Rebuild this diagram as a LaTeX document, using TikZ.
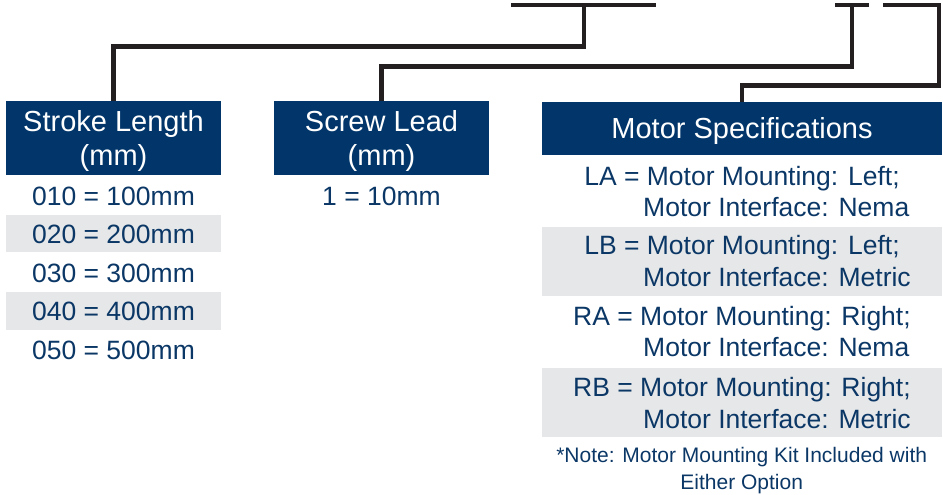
\documentclass[tikz,border=0pt]{standalone}
\usepackage{fontspec}
\setmainfont{Liberation Sans}
\definecolor{navy}{HTML}{02366A}
\definecolor{txtnavy}{HTML}{0B3766}
\definecolor{band}{HTML}{E6E7E8}
\definecolor{wire}{HTML}{231F20}
\tikzset{
  hdr/.style={rectangle, fill=navy, draw=none, inner sep=0pt},
  hdrtext/.style={inner sep=0pt, anchor=base, text=white, font=\fontsize{29}{34}\selectfont},
  rowtext/.style={inner sep=0pt, anchor=base, text=txtnavy, font=\fontsize{26.5}{31}\selectfont},
  rowtextw/.style={rowtext, anchor=base west},
  notetext/.style={inner sep=0pt, anchor=base, text=txtnavy, font=\fontsize{21}{26}\selectfont},
  bandbox/.style={rectangle, fill=band, draw=none, inner sep=0pt},
  conn/.style={draw=wire, line width=4.5pt, line join=miter, line cap=butt}
}
\begin{document}
\begin{tikzpicture}[x=1pt, y=-1pt]
\useasboundingbox (0,0) rectangle (943,495);
% gray bands
\node[bandbox, minimum width=215, minimum height=37.5] (b020) at (113.5,233.5) {};
\node[bandbox, minimum width=215, minimum height=37.5] (b040) at (113.5,311) {};
\node[bandbox, minimum width=400, minimum height=69] (bLB) at (742,261.5) {};
\node[bandbox, minimum width=400, minimum height=69] (bRB) at (742,402.5) {};
% headers
\node[hdr, minimum width=215, minimum height=74] (sl) at (113.5,138) {};
\node[hdr, minimum width=215, minimum height=74] (sc) at (381.5,138) {};
\node[hdr, minimum width=400, minimum height=53] (ms) at (742,128.5) {};
\node[hdrtext] (slt1) at (113.5,131.7) {Stroke Length};
\node[hdrtext] (slt2) at (113.5,165.7) {(mm)};
\node[hdrtext] (sct1) at (381.5,131.7) {Screw Lead};
\node[hdrtext] (sct2) at (381.5,165.7) {(mm)};
\node[hdrtext] (mst) at (742,138.3) {Motor Specifications};
% stroke rows
\node[rowtext] (r010) at (113.5,205) {010 = 100mm};
\node[rowtext] (r020) at (113.5,243.5) {020 = 200mm};
\node[rowtext] (r030) at (113.5,282) {030 = 300mm};
\node[rowtext] (r040) at (113.5,320.7) {040 = 400mm};
\node[rowtext] (r050) at (113.5,359.5) {050 = 500mm};
% screw row
\node[rowtext] (s1) at (381.5,205) {1 = 10mm};
% motor rows
\node[rowtext] (la1) at (742,185) {LA = Motor Mounting: Left;};
\node[rowtextw] (la2) at (643,216.7) {Motor Interface: Nema};
\node[rowtext] (lb1) at (742,254.3) {LB = Motor Mounting: Left;};
\node[rowtextw] (lb2) at (643,286.7) {Motor Interface: Metric};
\node[rowtext] (ra1) at (742,325) {RA = Motor Mounting: Right;};
\node[rowtextw] (ra2) at (643,356.7) {Motor Interface: Nema};
\node[rowtext] (rb1) at (742,396.7) {RB = Motor Mounting: Right;};
\node[rowtextw] (rb2) at (643,428.3) {Motor Interface: Metric};
\node[notetext] (n1) at (741.7,462.7) {*Note: Motor Mounting Kit Included with};
\node[notetext] (n2) at (741.7,489.3) {Either Option};
% top tabs
\coordinate (tA1) at (511,5);
\coordinate (tA2) at (656,5);
\coordinate (tAm) at (584,5);
\coordinate (tB1) at (835,5);
\coordinate (tB2) at (869,5);
\coordinate (tBm) at (852,5);
\coordinate (tC1) at (883,5);
\coordinate (tC2) at (939,5);
% connectors
\draw[conn] (tA1) -- (tA2);
\draw[conn] (tAm) -- (tAm |- 0,46.5) -| (sl.north);
\draw[conn] (tB1) -- (tB2);
\draw[conn] (tBm) -- (tBm |- 0,66.5) -| (sc.north);
\draw[conn] (tC1) -- (tC2) -- (tC2 |- 0,85.5) -| (ms.north);
\end{tikzpicture}
\end{document}
